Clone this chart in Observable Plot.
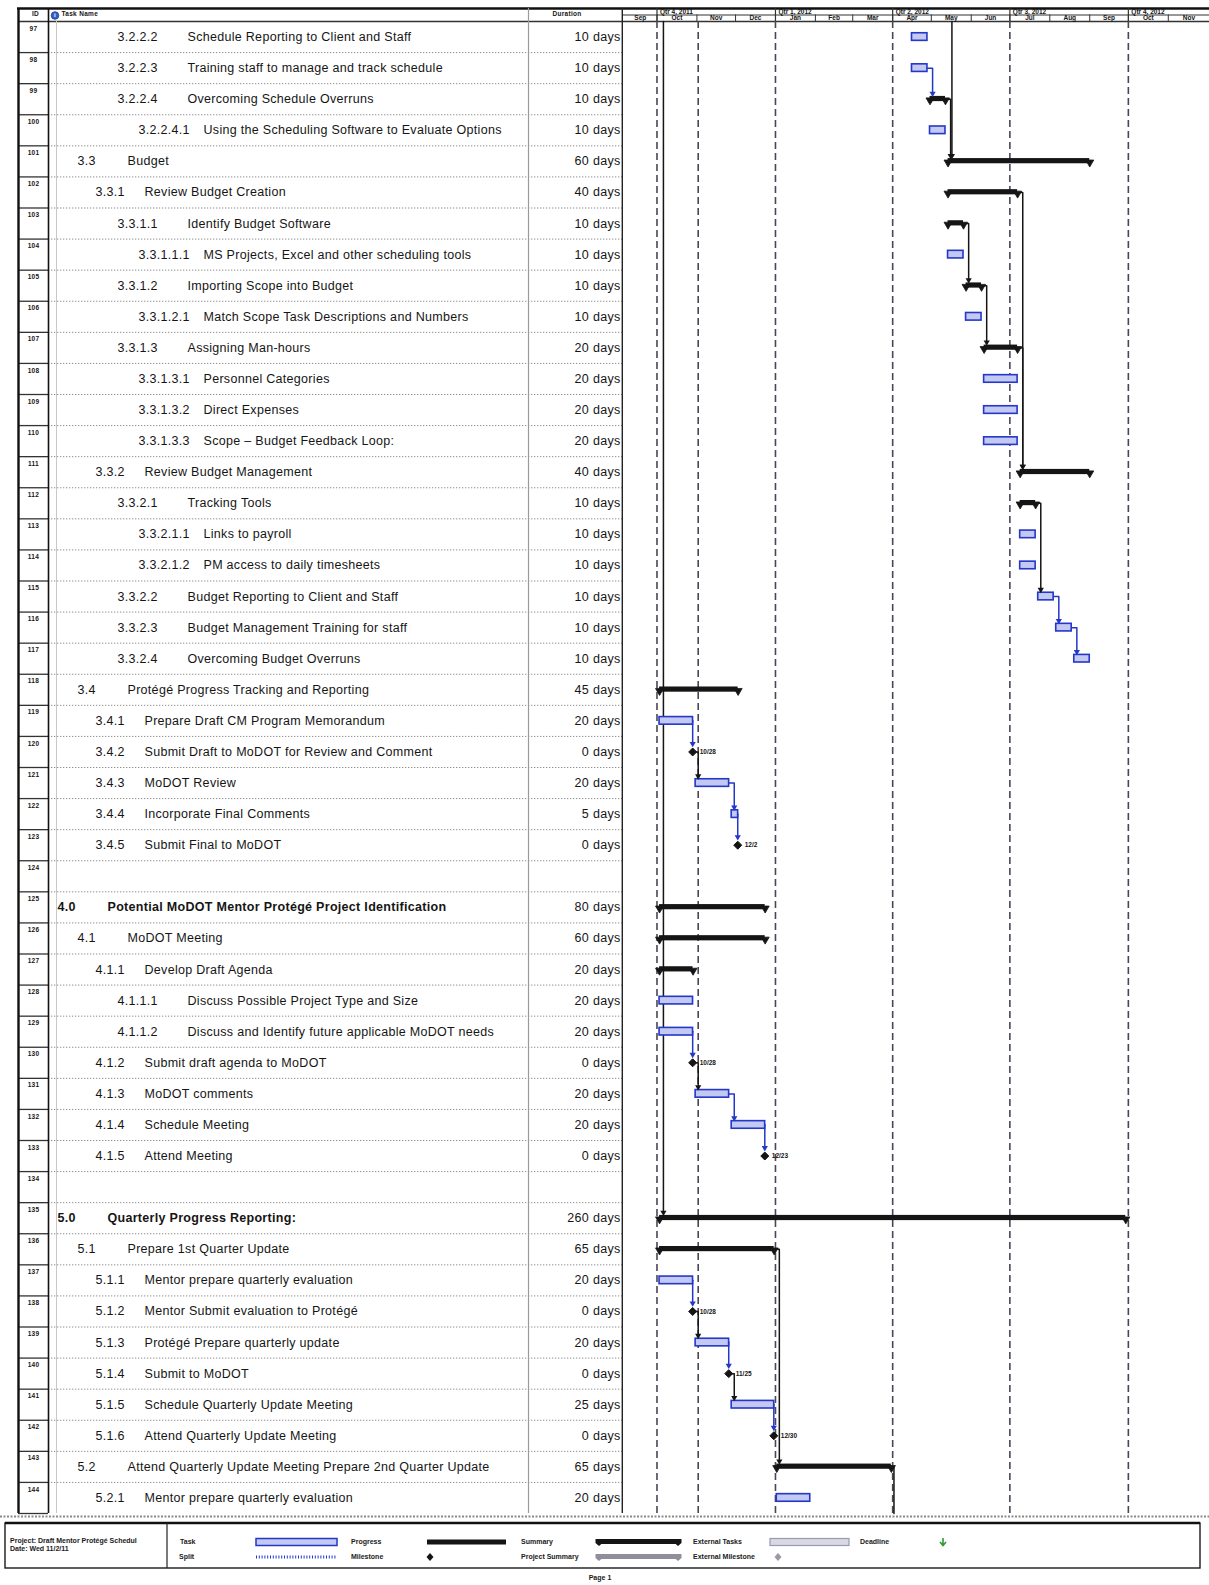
<!DOCTYPE html>
<html>
<head>
<meta charset="utf-8">
<script src="https://cdn.jsdelivr.net/npm/d3@7"></script>
<script src="https://cdn.jsdelivr.net/npm/@observablehq/plot@0.6"></script>
<style>
  html, body { margin: 0; padding: 0; background: #fff; }
  #page { position: relative; width: 1209px; height: 1585px; overflow: hidden; background: #fff; }
  #main { position: absolute; left: 0; top: 0; display: flex; }
  #footer { position: absolute; left: 0; top: 1512px; width: 1209px; height: 73px; }
  svg { display: block; }
</style>
</head>
<body>
<div id="page">
  <div id="main"></div>
  <div id="footer"></div>
</div>
<script>
// ---------------- DATA ----------------
const taskIds = [97, 98, 99, 100, 101, 102, 103, 104, 105, 106, 107, 108, 109, 110, 111, 112, 113, 114, 115, 116,
  117, 118, 119, 120, 121, 122, 123, 124, 125, 126, 127, 128, 129, 130, 131, 132, 133, 134, 135, 136, 137, 138, 139,
  140, 141, 142, 143, 144];

const wbsCodes = ["3.2.2.2", "3.2.2.3", "3.2.2.4", "3.2.2.4.1", "3.3", "3.3.1", "3.3.1.1", "3.3.1.1.1", "3.3.1.2",
  "3.3.1.2.1", "3.3.1.3", "3.3.1.3.1", "3.3.1.3.2", "3.3.1.3.3", "3.3.2", "3.3.2.1", "3.3.2.1.1", "3.3.2.1.2",
  "3.3.2.2", "3.3.2.3", "3.3.2.4", "3.4", "3.4.1", "3.4.2", "3.4.3", "3.4.4", "3.4.5", "", "4.0", "4.1", "4.1.1",
  "4.1.1.1", "4.1.1.2", "4.1.2", "4.1.3", "4.1.4", "4.1.5", "", "5.0", "5.1", "5.1.1", "5.1.2", "5.1.3", "5.1.4",
  "5.1.5", "5.1.6", "5.2", "5.2.1"];

const taskNames = [
  "Schedule Reporting to Client and Staff",
  "Training staff to manage and track schedule",
  "Overcoming Schedule Overruns",
  "Using the Scheduling Software to Evaluate Options",
  "Budget",
  "Review Budget Creation",
  "Identify Budget Software",
  "MS Projects, Excel and other scheduling tools",
  "Importing Scope into Budget",
  "Match Scope Task Descriptions and Numbers",
  "Assigning Man-hours",
  "Personnel Categories",
  "Direct Expenses",
  "Scope – Budget Feedback Loop:",
  "Review Budget Management",
  "Tracking Tools",
  "Links to payroll",
  "PM access to daily timesheets",
  "Budget Reporting to Client and Staff",
  "Budget Management Training for staff",
  "Overcoming Budget Overruns",
  "Protégé Progress Tracking and Reporting",
  "Prepare Draft CM Program Memorandum",
  "Submit Draft to MoDOT for Review and Comment",
  "MoDOT Review",
  "Incorporate Final Comments",
  "Submit Final to MoDOT",
  "",
  "Potential MoDOT Mentor Protégé Project Identification",
  "MoDOT Meeting",
  "Develop Draft Agenda",
  "Discuss Possible Project Type and Size",
  "Discuss and Identify future applicable MoDOT needs",
  "Submit draft agenda to MoDOT",
  "MoDOT comments",
  "Schedule Meeting",
  "Attend Meeting",
  "",
  "Quarterly Progress Reporting:",
  "Prepare 1st Quarter Update",
  "Mentor prepare quarterly evaluation",
  "Mentor Submit evaluation to Protégé",
  "Protégé Prepare quarterly update",
  "Submit to MoDOT",
  "Schedule Quarterly Update Meeting",
  "Attend Quarterly Update Meeting",
  "Attend Quarterly Update Meeting Prepare 2nd Quarter Update",
  "Mentor prepare quarterly evaluation"
];

const durations = ["10 days", "10 days", "10 days", "10 days", "60 days", "40 days", "10 days", "10 days", "10 days",
  "10 days", "20 days", "20 days", "20 days", "20 days", "40 days", "10 days", "10 days", "10 days", "10 days",
  "10 days", "10 days", "45 days", "20 days", "0 days", "20 days", "5 days", "0 days", "", "80 days", "60 days",
  "20 days", "20 days", "20 days", "0 days", "20 days", "20 days", "0 days", "", "260 days", "65 days", "20 days",
  "0 days", "20 days", "0 days", "25 days", "0 days", "65 days", "20 days"];

const barKinds = ["task", "task", "summary", "task", "summary", "summary", "summary", "task", "summary", "task",
  "summary", "task", "task", "task", "summary", "summary", "task", "task", "task", "task", "task", "summary", "task",
  "milestone", "task", "task", "milestone", "", "summary", "summary", "summary", "task", "task", "milestone", "task",
  "task", "milestone", "", "summary", "summary", "task", "milestone", "task", "milestone", "task", "milestone",
  "summary", "task"];

const barStarts = ["2012-04-16", "2012-04-16", "2012-04-30", "2012-04-30", "2012-05-14", "2012-05-14", "2012-05-14",
  "2012-05-14", "2012-05-28", "2012-05-28", "2012-06-11", "2012-06-11", "2012-06-11", "2012-06-11", "2012-07-09",
  "2012-07-09", "2012-07-09", "2012-07-09", "2012-07-23", "2012-08-06", "2012-08-20", "2011-10-03", "2011-10-03",
  "2011-10-28T17:00Z", "2011-10-31", "2011-11-28", "2011-12-02T17:00Z", "", "2011-10-03", "2011-10-03",
  "2011-10-03", "2011-10-03", "2011-10-03", "2011-10-28T17:00Z", "2011-10-31", "2011-11-28", "2011-12-23T17:00Z", "",
  "2011-10-03", "2011-10-03", "2011-10-03", "2011-10-28T17:00Z", "2011-10-31", "2011-11-25T17:00Z", "2011-11-28",
  "2011-12-30T17:00Z", "2012-01-02", "2012-01-02"];

const barEnds = ["2012-04-28", "2012-04-28", "2012-05-12", "2012-05-12", "2012-09-01", "2012-07-07", "2012-05-26",
  "2012-05-26", "2012-06-09", "2012-06-09", "2012-07-07", "2012-07-07", "2012-07-07", "2012-07-07", "2012-09-01",
  "2012-07-21", "2012-07-21", "2012-07-21", "2012-08-04", "2012-08-18", "2012-09-01", "2011-12-03", "2011-10-29",
  "", "2011-11-26", "2011-12-03", "", "", "2011-12-24", "2011-12-24", "2011-10-29", "2011-10-29", "2011-10-29", "",
  "2011-11-26", "2011-12-24", "", "", "2012-09-29", "2011-12-31", "2011-10-29", "", "2011-11-26", "", "2011-12-31",
  "", "2012-03-31", "2012-01-28"];

// predecessor -> successor (null = off this page)
const linkFrom = [98, 99, null, 103, 105, 102, 107, 112, 115, 116, 119, 120, 121, 122, 129, 130, 131, 132, 137, 138,
  139, 140, 141, null, 136, 143];
const linkTo = [99, 101, 101, 105, 107, 111, 111, 115, 116, 117, 120, 121, 122, 123, 130, 131, 132, 133, 138, 139,
  140, 141, 142, 135, 143, null];

const gridDates = ["2011-10-01", "2011-11-02", "2012-01-01", "2012-04-01", "2012-07-01", "2012-10-01"];
const quarterStarts = ["2011-10-01", "2012-01-01", "2012-04-01", "2012-07-01", "2012-10-01"];
const quarterLabels = ["Qtr 4, 2011", "Qtr 1, 2012", "Qtr 2, 2012", "Qtr 3, 2012", "Qtr 4, 2012"];
const monthStarts = ["2011-09-01", "2011-10-01", "2011-11-01", "2011-12-01", "2012-01-01", "2012-02-01",
  "2012-03-01", "2012-04-01", "2012-05-01", "2012-06-01", "2012-07-01", "2012-08-01", "2012-09-01", "2012-10-01",
  "2012-11-01"];
const monthLabels = ["Sep", "Oct", "Nov", "Dec", "Jan", "Feb", "Mar", "Apr", "May", "Jun", "Jul", "Aug", "Sep",
  "Oct", "Nov"];
const timeDomain = ["2011-09-05", "2012-12-03"];

// ---------------- LAYOUT ----------------
const FONT = "'Liberation Sans', Arial, sans-serif";
const W = 1209, H = 1520, TABLE_W = 623, GANTT_W = W - TABLE_W;
const Y0 = 21, Y1 = 1513, ROWS = taskIds.length;
const rowPx = (Y1 - Y0) / ROWS;
const px = p => p / rowPx;                 // pixels -> row units
const HDR_TOP = -px(Y0 - 8);
const HDR_MID = -px(Y0 - 14.5);
const BOTTOM_LINE = ROWS + px(3);
const wbsX = [0, 57, 77, 95, 117, 138];
const nameX = [0, 107, 127, 144, 187, 203];
const DAY = 864e5;
const TASK_BLUE = "#2437c9", TASK_FILL = "#c3c9f2", INK = "#151515";
const BODY_FS = 12.5;

const rows = taskIds.map((id, i) => {
  const w = wbsCodes[i];
  const depth = w === "" ? 0 : (w.endsWith(".0") ? 1 : w.split(".").length);
  return {
    id, r: i, wbs: w, name: taskNames[i], dur: durations[i], kind: barKinds[i], depth,
    start: barStarts[i] ? new Date(barStarts[i]) : null,
    end: barEnds[i] ? new Date(barEnds[i]) : null
  };
});
const byId = new Map(rows.map(d => [d.id, d]));
const tasks = rows.filter(d => d.kind === "task");
const summaries = rows.filter(d => d.kind === "summary");
const milestones = rows.filter(d => d.kind === "milestone");
const summaryCaps = summaries.flatMap(d => [{x: d.start, r: d.r}, {x: d.end, r: d.r}]);

// link routes (finish-to-start, MS Project style)
const topOf = s => s.r + (s.kind === "milestone" ? 0.5 - px(5) : s.kind === "summary" ? 0.42 : 0.38);
const linkPts = [], arrows = [];
linkFrom.forEach((f, i) => {
  const p = f == null ? null : byId.get(f);
  const s = linkTo[i] == null ? null : byId.get(linkTo[i]);
  const color = p && p.kind === "task" ? "blue" : "black";
  if (p && s) {
    const ep = p.kind === "milestone" ? p.start : p.end;
    const xt = s.kind === "milestone" ? s.start : new Date(Math.max(+ep + DAY, +s.start + 2 * DAY));
    const yEnd = topOf(s) - px(3.2);
    linkPts.push({k: i, color, x: ep, y: p.r + 0.5}, {k: i, color, x: xt, y: p.r + 0.5}, {k: i, color, x: xt, y: yEnd});
    arrows.push({color, x: xt, y: yEnd});
  } else if (s) {
    const xt = new Date(+s.start + 3 * DAY);
    const yEnd = topOf(s) - px(3.2);
    linkPts.push({k: i, color, x: xt, y: 0}, {k: i, color, x: xt, y: yEnd});
    arrows.push({color, x: xt, y: yEnd});
  } else if (p) {
    const ep = p.end;
    const xt = new Date(+ep + 2 * DAY);
    linkPts.push({k: i, color, x: ep, y: p.r + 0.5}, {k: i, color, x: xt, y: p.r + 0.5}, {k: i, color, x: xt, y: ROWS});
  }
});

const dStart = new Date(timeDomain[0]), dEnd = new Date(timeDomain[1]);
const months = monthStarts.map((m, i) => {
  const a = new Date(m), b = i + 1 < monthStarts.length ? new Date(monthStarts[i + 1]) : dEnd;
  const s = a < dStart ? dStart : a, e = b > dEnd ? dEnd : b;
  return {start: new Date(m), mid: new Date((+s + +e) / 2), label: monthLabels[i]};
});
const quarters = quarterStarts.map((q, i) => ({start: new Date(q), label: quarterLabels[i]}));
const yScale = {domain: [0, ROWS], range: [Y0, Y1], axis: null};
const rowLines = rows.map(d => ({y: d.r + 1}));

// ---------------- TABLE ----------------
const tablePlot = Plot.plot({
  width: TABLE_W, height: H, marginTop: 0, marginBottom: 0, marginLeft: 0, marginRight: 0,
  x: {domain: [0, TABLE_W], range: [0, TABLE_W], axis: null},
  y: yScale,
  style: {background: "white", fontFamily: FONT, color: INK, overflow: "visible", letterSpacing: "0.3px"},
  marks: [
    Plot.ruleY(rowLines.slice(0, -1), {y: "y", x1: 48, x2: 622, stroke: "#8c8c8c", strokeWidth: 1, strokeDasharray: "1.3,1.7"}),
    Plot.ruleY([BOTTOM_LINE], {x1: 0, x2: TABLE_W, stroke: "#8a8a8a", strokeWidth: 2.2, strokeDasharray: "2,1.5"}),
    Plot.ruleY(rowLines, {y: "y", x1: 18, x2: 48, stroke: "#333", strokeWidth: 1.3}),
    Plot.ruleY([HDR_TOP], {x1: 17, x2: TABLE_W, stroke: "#111", strokeWidth: 2.4}),
    Plot.ruleY([0], {x1: 18, x2: TABLE_W, stroke: "#333", strokeWidth: 1.6}),
    Plot.ruleX([18], {y1: HDR_TOP, y2: ROWS, stroke: "#111", strokeWidth: 2.4}),
    Plot.ruleX([48], {y1: HDR_TOP, y2: ROWS, stroke: "#111", strokeWidth: 1.6}),
    Plot.ruleX([56], {y1: 0, y2: ROWS, stroke: "#c8c8c8", strokeWidth: 1}),
    Plot.ruleX([528], {y1: HDR_TOP, y2: ROWS, stroke: "#9a9a9a", strokeWidth: 1.2}),
    Plot.ruleX([622], {y1: HDR_TOP, y2: ROWS, stroke: "#222", strokeWidth: 1.8}),
    // header
    Plot.text(["ID"], {x: 35, y: HDR_TOP + px(5), text: d => d, fontSize: 6.5, fontWeight: "bold", textAnchor: "middle"}),
    Plot.dot([0], {x: 54.5, y: -px(6), r: 3.8, fill: "#3461c9", stroke: "#1d3c8f", strokeWidth: 0.8}),
    Plot.text(["i"], {x: 54.5, y: -px(6), text: d => d, fontSize: 6, fontWeight: "bold", fill: "white"}),
    Plot.text(["Task Name"], {x: 61, y: HDR_TOP + px(5), text: d => d, fontSize: 6.5, fontWeight: "bold", textAnchor: "start"}),
    Plot.text(["Duration"], {x: 552, y: HDR_TOP + px(5), text: d => d, fontSize: 6.5, fontWeight: "bold", textAnchor: "start"}),
    // body
    Plot.text(rows, {x: 33, y: d => d.r + px(7), text: "id", fontSize: 6.5, fontWeight: "bold", textAnchor: "middle"}),
    Plot.text(rows.filter(d => d.depth > 1), {x: d => wbsX[d.depth], y: d => d.r + 0.5, text: "wbs", fontSize: BODY_FS, textAnchor: "start", fill: INK}),
    Plot.text(rows.filter(d => d.depth > 1), {x: d => nameX[d.depth], y: d => d.r + 0.5, text: "name", fontSize: BODY_FS, textAnchor: "start", fill: INK}),
    Plot.text(rows.filter(d => d.depth === 1), {x: d => wbsX[d.depth], y: d => d.r + 0.5, text: "wbs", fontSize: BODY_FS, fontWeight: "bold", textAnchor: "start", fill: INK}),
    Plot.text(rows.filter(d => d.depth === 1), {x: d => nameX[d.depth], y: d => d.r + 0.5, text: "name", fontSize: BODY_FS, fontWeight: "bold", textAnchor: "start", fill: INK}),
    Plot.text(rows, {x: 620, y: d => d.r + 0.5, text: "dur", fontSize: BODY_FS, textAnchor: "end", fill: INK})
  ]
});

// ---------------- GANTT ----------------
const ganttPlot = Plot.plot({
  width: GANTT_W, height: H, marginTop: 0, marginBottom: 0, marginLeft: 0, marginRight: 0,
  x: {type: "utc", domain: [dStart, dEnd], range: [0, GANTT_W], axis: null},
  y: yScale,
  style: {background: "white", fontFamily: FONT, color: INK, overflow: "visible"},
  marks: [
    // timescale header
    Plot.ruleY([HDR_TOP], {x1: dStart, x2: dEnd, stroke: "#111", strokeWidth: 2.4}),
    Plot.ruleY([HDR_MID], {x1: dStart, x2: dEnd, stroke: "#333", strokeWidth: 1}),
    Plot.ruleY([0], {x1: dStart, x2: dEnd, stroke: "#333", strokeWidth: 1.6}),
    Plot.ruleX(quarters, {x: "start", y1: HDR_TOP, y2: 0, stroke: "#333", strokeWidth: 1.2}),
    Plot.ruleX(months.slice(1), {x: "start", y1: HDR_MID, y2: 0, stroke: "#333", strokeWidth: 1}),
    Plot.text(quarters, {x: "start", y: HDR_TOP + px(3.4), text: "label", dx: 3, textAnchor: "start", fontSize: 6.5, fontWeight: "bold"}),
    Plot.text(months, {x: "mid", y: -px(3.3), text: "label", textAnchor: "middle", fontSize: 6.5, fontWeight: "bold"}),
    Plot.ruleY([BOTTOM_LINE], {x1: dStart, x2: dEnd, stroke: "#8a8a8a", strokeWidth: 2.2, strokeDasharray: "2,1.5"}),
    // gridlines (quarters + current date)
    Plot.ruleX(gridDates, {x: d => new Date(d), y1: 0, y2: ROWS, stroke: "#4b4656", strokeWidth: 1.6, strokeDasharray: "7,4"}),
    // links
    Plot.line(linkPts.filter(d => d.color === "black"), {x: "x", y: "y", z: "k", stroke: INK, strokeWidth: 1.5, curve: "linear"}),
    Plot.line(linkPts.filter(d => d.color === "blue"), {x: "x", y: "y", z: "k", stroke: TASK_BLUE, strokeWidth: 1.5, curve: "linear"}),
    // task bars
    Plot.rect(tasks, {x1: "start", x2: "end", y1: d => d.r + 0.5 - px(3.8), y2: d => d.r + 0.5 + px(3.8), fill: TASK_FILL, stroke: TASK_BLUE, strokeWidth: 1.6}),
    // summary bars
    Plot.rect(summaries, {x1: "start", x2: "end", y1: d => d.r + 0.5 - px(2.8), y2: d => d.r + 0.5 + px(2.4), fill: INK}),
    Plot.dot(summaryCaps, {x: "x", y: d => d.r + 0.5 + px(1), symbol: "triangle", rotate: 180, r: 3, fill: INK, stroke: INK, strokeWidth: 0.8}),
    // milestones
    Plot.dot(milestones, {x: "start", y: d => d.r + 0.5, symbol: "diamond2", r: 3.6, fill: INK, stroke: INK, strokeWidth: 1}),
    Plot.text(milestones, {x: "start", y: d => d.r + 0.5, text: d => d3.utcFormat("%-m/%-d")(d.start), dx: 7, textAnchor: "start", fontSize: 6.5, fontWeight: "bold", fill: INK}),
    // arrow heads
    Plot.dot(arrows.filter(d => d.color === "black"), {x: "x", y: "y", symbol: "triangle", rotate: 180, r: 2.3, fill: INK}),
    Plot.dot(arrows.filter(d => d.color === "blue"), {x: "x", y: "y", symbol: "triangle", rotate: 180, r: 2.3, fill: TASK_BLUE})
  ]
});

const main = document.getElementById("main");
main.appendChild(tablePlot);
main.appendChild(ganttPlot);

// ---------------- FOOTER (legend) ----------------
const legendRow1 = [["Task", 180], ["Progress", 351], ["Summary", 521], ["External Tasks", 693], ["Deadline", 860]];
const legendRow2 = [["Split", 179], ["Milestone", 351], ["Project Summary", 521], ["External Milestone", 693]];
const projectLines = ["Project: Draft Mentor Protégé Schedul", "Date: Wed 11/2/11"];

const fy0 = 1512;
const r1 = 1542 - fy0, r2 = 1557 - fy0, boxTop = 1523 - fy0, boxBot = 1568 - fy0;
const fsvg = d3.select("#footer").append("svg").attr("width", W).attr("height", 73)
  .style("font-family", FONT);
fsvg.append("rect").attr("x", 5).attr("y", boxTop).attr("width", 1195).attr("height", boxBot - boxTop)
  .attr("fill", "none").attr("stroke", "#1a1a1a").attr("stroke-width", 1.4);
fsvg.append("line").attr("x1", 5).attr("x2", 1200).attr("y1", boxTop).attr("y2", boxTop).attr("stroke", "#111").attr("stroke-width", 2.4);
fsvg.append("line").attr("x1", 167).attr("x2", 167).attr("y1", boxTop).attr("y2", boxBot).attr("stroke", "#222").attr("stroke-width", 1.2);
const txt = (s, x, y, anchor = "start") => fsvg.append("text").attr("x", x).attr("y", y).attr("dy", "0.35em")
  .attr("text-anchor", anchor).attr("font-size", 7).attr("font-weight", "bold").attr("fill", "#1a1a1a").text(s);
projectLines.forEach((s, i) => txt(s, 10, r1 - 1 + i * 8));
legendRow1.forEach(([s, x]) => txt(s, x, r1));
legendRow2.forEach(([s, x]) => txt(s, x, r2));
txt("Page 1", 600, 1578 - fy0, "middle");
// swatches
fsvg.append("rect").attr("x", 256).attr("y", r1 - 3.5).attr("width", 81).attr("height", 7).attr("fill", TASK_FILL).attr("stroke", TASK_BLUE).attr("stroke-width", 1.5);
fsvg.append("line").attr("x1", 256).attr("x2", 337).attr("y1", r2).attr("y2", r2).attr("stroke", TASK_BLUE).attr("stroke-width", 3).attr("stroke-dasharray", "1,1.8");
fsvg.append("rect").attr("x", 427).attr("y", r1 - 2.5).attr("width", 79).attr("height", 5).attr("fill", INK);
const diamond = (x, y, c) => fsvg.append("path").attr("d", `M${x},${y - 4}L${x + 3.5},${y}L${x},${y + 4}L${x - 3.5},${y}Z`).attr("fill", c);
diamond(430, r2, INK);
const sumSwatch = (y, c) => {
  fsvg.append("rect").attr("x", 599).attr("y", y - 3).attr("width", 79).attr("height", 5).attr("fill", c);
  [599, 678].forEach(x => fsvg.append("path").attr("d", `M${x - 3.5},${y - 3}L${x + 3.5},${y - 3}L${x + 3.5},${y + 1}L${x},${y + 4}L${x - 3.5},${y + 1}Z`).attr("fill", c));
};
sumSwatch(r1, INK);
sumSwatch(r2, "#8f8f9c");
fsvg.append("rect").attr("x", 770).attr("y", r1 - 3.5).attr("width", 79).attr("height", 7).attr("fill", "#d9d9e6").attr("stroke", "#9a9aae").attr("stroke-width", 1.2);
diamond(778, r2, "#9a9aa6");
fsvg.append("path").attr("d", `M943,${r1 - 4}L943,${r1 + 3}M940,${r1}L943,${r1 + 3.5}L946,${r1}`).attr("fill", "none").attr("stroke", "#2f9a2f").attr("stroke-width", 1.6);
</script>
</body>
</html>
